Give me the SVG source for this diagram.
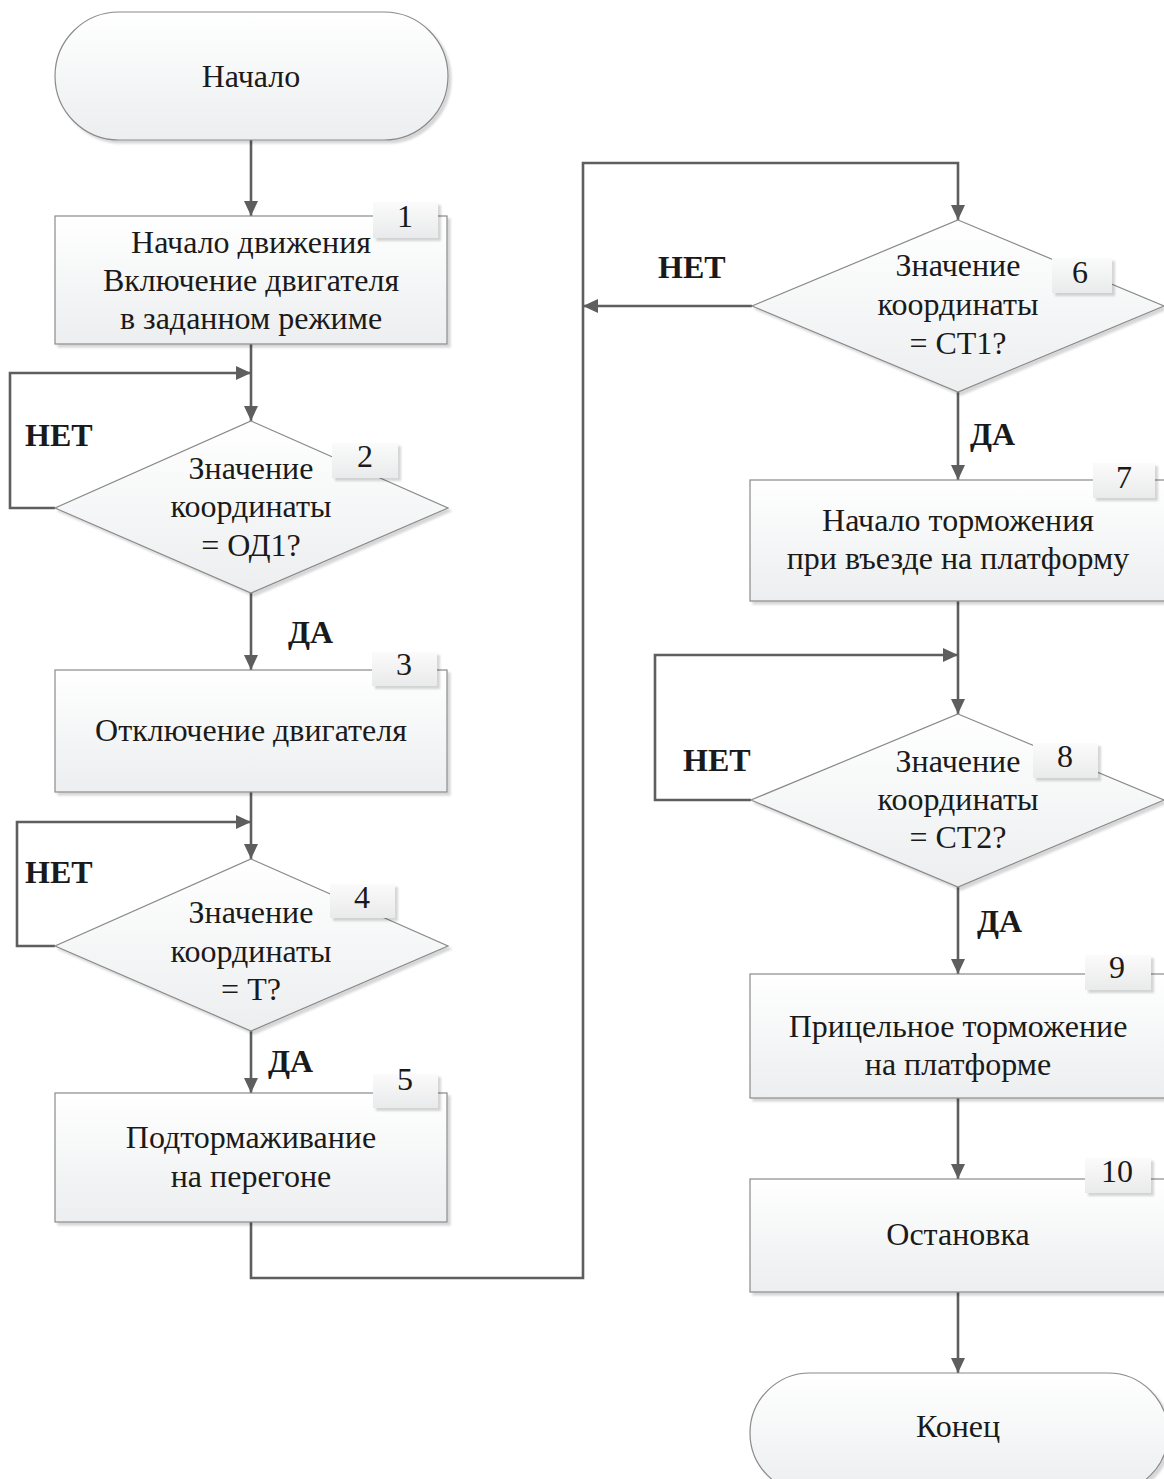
<svg xmlns="http://www.w3.org/2000/svg" width="1164" height="1479" viewBox="0 0 1164 1479">
<defs>
<linearGradient id="g" x1="0" y1="0" x2="0" y2="1">
<stop offset="0" stop-color="#ffffff"/>
<stop offset="1" stop-color="#eceeef"/>
</linearGradient>
<linearGradient id="gt" x1="0" y1="0" x2="0" y2="1">
<stop offset="0" stop-color="#fbfbfb"/>
<stop offset="1" stop-color="#e9eaeb"/>
</linearGradient>
<filter id="sh" x="-10%" y="-10%" width="130%" height="130%">
<feDropShadow dx="3" dy="3" stdDeviation="1.2" flood-color="#000" flood-opacity="0.16"/>
</filter>
<marker id="ar" markerUnits="userSpaceOnUse" markerWidth="16" markerHeight="16" viewBox="0 0 16 16" refX="15" refY="8" orient="auto">
<path d="M0,1 L15,8 L0,15 z" fill="#5e5e5e"/>
</marker>
</defs>
<style>
.s{fill:url(#g);stroke:#8a8a8a;stroke-width:1.2;filter:url(#sh)}
.tb{fill:url(#gt);stroke:none;filter:url(#sh)}
.t{font-family:"Liberation Serif","Times New Roman",serif;font-size:32px;fill:#1a1a1a;text-anchor:middle}
.b{font-family:"Liberation Serif","Times New Roman",serif;font-size:32px;font-weight:bold;fill:#1a1a1a}
.c{fill:none;stroke:#5e5e5e;stroke-width:2.6}
</style>

<g id="connectors">
<path class="c" d="M251,140 V216" marker-end="url(#ar)"/>
<path class="c" d="M251,344 V421" marker-end="url(#ar)"/>
<path class="c" d="M55,508 H10 V373 H251" marker-end="url(#ar)"/>
<path class="c" d="M251,593 V670" marker-end="url(#ar)"/>
<path class="c" d="M251,792 V859" marker-end="url(#ar)"/>
<path class="c" d="M55,946 H17 V822 H251" marker-end="url(#ar)"/>
<path class="c" d="M251,1031 V1093" marker-end="url(#ar)"/>
<path class="c" d="M251,1222 V1278 H583 V163 H958 V220" marker-end="url(#ar)"/>
<path class="c" d="M752,306 H583" marker-end="url(#ar)"/>
<path class="c" d="M958,392 V480" marker-end="url(#ar)"/>
<path class="c" d="M958,601 V714" marker-end="url(#ar)"/>
<path class="c" d="M751,800 H655 V655 H958" marker-end="url(#ar)"/>
<path class="c" d="M958,887 V974" marker-end="url(#ar)"/>
<path class="c" d="M958,1098 V1179" marker-end="url(#ar)"/>
<path class="c" d="M958,1292 V1373" marker-end="url(#ar)"/>
<text class="b" x="25" y="446">НЕТ</text>
<text class="b" x="288" y="643">ДА</text>
<text class="b" x="25" y="883">НЕТ</text>
<text class="b" x="268" y="1072">ДА</text>
<text class="b" x="658" y="278">НЕТ</text>
<text class="b" x="970" y="445">ДА</text>
<text class="b" x="683" y="771">НЕТ</text>
<text class="b" x="977" y="932">ДА</text>
</g>

<g id="start">
<rect class="s" x="55" y="12" width="393" height="128" rx="64"/>
<text class="t" x="251" y="87">Начало</text>
</g>

<g id="n1">
<rect class="s" x="55" y="216" width="392" height="128"/>
<rect class="tb" x="373" y="202" width="65" height="36"/>
<text class="t" x="405" y="227">1</text>
<text class="t" x="251" y="253">Начало движения</text>
<text class="t" x="251" y="291">Включение двигателя</text>
<text class="t" x="251" y="329">в заданном режиме</text>
</g>

<g id="n2">
<polygon class="s" points="251,421 448,508 251,593 55,508"/>
<rect class="tb" x="332" y="443" width="66" height="35"/>
<text class="t" x="365" y="467">2</text>
<text class="t" x="251" y="479">Значение</text>
<text class="t" x="251" y="517">координаты</text>
<text class="t" x="251" y="556">= ОД1?</text>
</g>

<g id="n3">
<rect class="s" x="55" y="670" width="392" height="122"/>
<rect class="tb" x="372" y="652" width="65" height="34"/>
<text class="t" x="404" y="675">3</text>
<text class="t" x="251" y="741">Отключение двигателя</text>
</g>

<g id="n4">
<polygon class="s" points="251,859 448,946 251,1031 55,946"/>
<rect class="tb" x="330" y="884" width="65" height="34"/>
<text class="t" x="362" y="908">4</text>
<text class="t" x="251" y="923">Значение</text>
<text class="t" x="251" y="962">координаты</text>
<text class="t" x="251" y="1000">= Т?</text>
</g>

<g id="n5">
<rect class="s" x="55" y="1093" width="392" height="129"/>
<rect class="tb" x="373" y="1074" width="65" height="34"/>
<text class="t" x="405" y="1090">5</text>
<text class="t" x="251" y="1148">Подтормаживание</text>
<text class="t" x="251" y="1187">на перегоне</text>
</g>

<g id="n6">
<polygon class="s" points="958,220 1164,306 958,392 752,306"/>
<rect class="tb" x="1052" y="258" width="60" height="35"/>
<text class="t" x="1080" y="283">6</text>
<text class="t" x="958" y="276">Значение</text>
<text class="t" x="958" y="315">координаты</text>
<text class="t" x="958" y="354">= СТ1?</text>
</g>

<g id="n7">
<rect class="s" x="750" y="480" width="418" height="121"/>
<rect class="tb" x="1093" y="463" width="62" height="35"/>
<text class="t" x="1124" y="488">7</text>
<text class="t" x="958" y="531">Начало торможения</text>
<text class="t" x="958" y="569">при въезде на платформу</text>
</g>

<g id="n8">
<polygon class="s" points="958,714 1164,800 958,887 751,800"/>
<rect class="tb" x="1033" y="743" width="65" height="35"/>
<text class="t" x="1065" y="767">8</text>
<text class="t" x="958" y="772">Значение</text>
<text class="t" x="958" y="810">координаты</text>
<text class="t" x="958" y="848">= СТ2?</text>
</g>

<g id="n9">
<rect class="s" x="750" y="974" width="418" height="124"/>
<rect class="tb" x="1085" y="955" width="66" height="35"/>
<text class="t" x="1117" y="978">9</text>
<text class="t" x="958" y="1037">Прицельное торможение</text>
<text class="t" x="958" y="1075">на платформе</text>
</g>

<g id="n10">
<rect class="s" x="750" y="1179" width="418" height="113"/>
<rect class="tb" x="1085" y="1158" width="66" height="35"/>
<text class="t" x="1117" y="1182">10</text>
<text class="t" x="958" y="1245">Остановка</text>
</g>

<g id="end">
<rect class="s" x="750" y="1373" width="418" height="120" rx="60"/>
<text class="t" x="958" y="1437">Конец</text>
</g>
</svg>
